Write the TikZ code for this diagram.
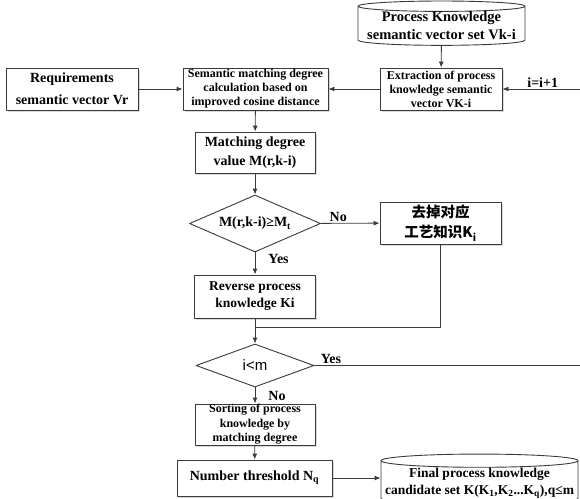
\documentclass[tikz,border=0pt]{standalone}
\usepackage{fontspec}
\setmainfont{Liberation Serif}
\newfontfamily\cjkfont{Noto Sans CJK SC}
\newfontfamily\arialfont{Liberation Sans}
\usetikzlibrary{shapes.geometric,arrows.meta,shadows}
\definecolor{linec}{HTML}{3A3A3A}

\begin{document}
\begin{tikzpicture}[x=1pt, y=-1pt, line join=round,
    base/.style={draw=linec, line width=0.9pt, fill=white, align=center, inner sep=0pt},
    box/.style={base, rectangle, drop shadow={shadow xshift=1.5pt, shadow yshift=-1.5pt, opacity=0.15, fill=black}},
    db/.style={base, cylinder, shape border rotate=90, aspect=0.07},
    test/.style={base, diamond},
    lbl/.style={font=\bfseries\fontsize{14}{16}\selectfont, inner sep=1pt},
    line/.style={draw=linec, line width=0.9pt},
    arr/.style={line, -{Latex[length=6pt, width=5pt]}}
  ]
  \useasboundingbox (0,0) rectangle (580,498);
  % top row
  \node[box, minimum width=132pt, minimum height=42pt, font=\bfseries\fontsize{14}{22}\selectfont] (req) at (72,89) {Requirements\\semantic vector Vr};
  \node[box, minimum width=145pt, minimum height=42pt, font=\bfseries\fontsize{12}{14}\selectfont] (sem) at (255.5,89) {Semantic matching degree\\calculation based on\\improved cosine distance};
  \node[box, minimum width=122pt, minimum height=42pt, font=\bfseries\fontsize{12}{14}\selectfont] (ext) at (441,89) {Extraction of process\\knowledge semantic\\vector VK-i};
  \node[db, minimum width=167pt, minimum height=40pt, font=\bfseries\fontsize{14.5}{18}\selectfont] (pks) at (441.5,26) {Process Knowledge\\semantic vector set Vk-i};
  % main column
  \node[box, minimum width=120pt, minimum height=41pt, font=\bfseries\fontsize{14}{19}\selectfont] (mval) at (255,152.5) {Matching degree\\value M(r,k-i)};
  \node[test, aspect=2.3, minimum width=131pt, minimum height=57pt, font=\bfseries\fontsize{14}{16}\selectfont] (dia1) at (255,223.5) {M(r,k-i)≥M\textsubscript{t}};
  \node[box, minimum width=121pt, minimum height=42pt, font=\cjkfont\bfseries\fontsize{14.5}{20}\selectfont] (drop) at (440.5,223) {去掉对应\\工艺知识K\textsubscript{i}};
  \node[box, minimum width=121pt, minimum height=43pt, font=\bfseries\fontsize{13.5}{17}\selectfont] (rev) at (255,296.5) {Reverse process\\knowledge Ki};
  \node[test, aspect=2.74, minimum width=118pt, minimum height=43pt, font=\arialfont\fontsize{15}{17}\selectfont] (dia2) at (255,365.5) {i<m};
  \node[box, minimum width=120pt, minimum height=41pt, font=\bfseries\fontsize{12}{14.5}\selectfont] (sort) at (255,424.5) {Sorting of process\\knowledge by\\matching degree};
  \node[box, minimum width=155pt, minimum height=36pt, font=\bfseries\fontsize{14}{16}\selectfont] (num) at (254.5,478) {Number threshold N\textsubscript{q}};
  \node[db, minimum width=197pt, minimum height=45pt, font=\bfseries\fontsize{13.5}{17}\selectfont] (fin) at (479.5,483) {Final process knowledge\\candidate set K(K\textsubscript{1},K\textsubscript{2}...K\textsubscript{q}),q≤m};
  % loop corners
  \coordinate (mj) at (255,327);
  \coordinate (rb) at (583,365.5);
  \coordinate (rt) at (583,89);
  % connectors
  \draw[arr] (req) -- (sem);
  \draw[arr] (ext) -- (sem);
  \draw[arr] (pks) -- (ext);
  \draw[arr] (sem) -- (mval);
  \draw[arr] (mval) -- (dia1);
  \draw[arr] (dia1) -- node[lbl, above, pos=0.3] {No} (drop);
  \draw[arr] (dia1) -- node[lbl, anchor=west, xshift=12pt, pos=0.3] {Yes} (rev);
  \draw[line] (drop) |- (mj);
  \draw[arr] (rev) -- (dia2);
  \draw[arr] (dia2) -- node[lbl, anchor=west, xshift=12pt] {No} (sort);
  \draw[arr] (sort) -- (num);
  \draw[arr] (num) -- (num -| fin.west);
  \draw[line] (dia2) -- node[lbl, above right, pos=0, xshift=5pt] {Yes} (rb) -- (rt);
  \draw[arr] (rt) -- node[lbl, above] {i=i+1} (ext);
\end{tikzpicture}
\end{document}
